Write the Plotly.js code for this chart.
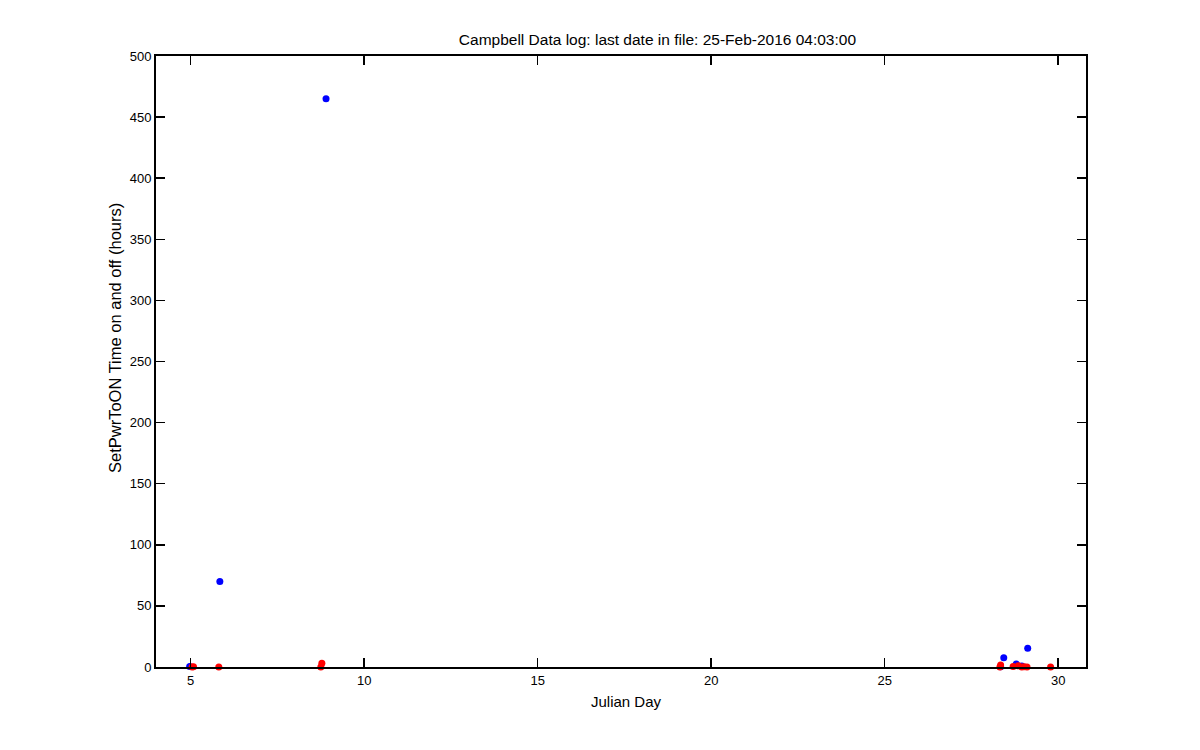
<!DOCTYPE html>
<html>
<head>
<meta charset="utf-8">
<script src="https://cdn.plot.ly/plotly-3.0.1.min.js"></script>
<style>html,body{margin:0;padding:0;background:#fff;}#chart{width:1200px;height:750px;}</style>
</head>
<body>
<div id="chart"></div>
<script>
// Blue series (time on)
const onDay   = [4.97, 5.84, 8.90, 28.34, 28.43, 28.79, 28.95, 29.12];
const onHours = [0.5, 70, 465, 0.2, 7.5, 2.5, 0.8, 15.3];
// Red series (time off)
const offDay   = [5.04, 5.08, 5.81, 8.75, 8.78, 28.32, 28.34, 28.70, 28.85, 28.95, 29.02, 29.10, 29.78];
const offHours = [0, 0.3, 0, 0, 3, 0, 1.6, 0.5, 1, 0, 0.3, 0, 0];

const xTicks = [5, 10, 15, 20, 25, 30];
const yTicks = [0, 50, 100, 150, 200, 250, 300, 350, 400, 450, 500];

const family = 'Liberation Sans, Arial, sans-serif';
const font = {family: family, size: 13, color: '#000'};

const traces = [
  {x: onDay, y: onHours, type: 'scatter', mode: 'markers', cliponaxis: false,
   marker: {color: '#0000ff', size: 7}, showlegend: false},
  {x: offDay, y: offHours, type: 'scatter', mode: 'markers', cliponaxis: false,
   marker: {color: '#ff0000', size: 7}, showlegend: false}
];

const axisCommon = {
  showline: true, linecolor: '#000', linewidth: 2, mirror: 'ticks',
  ticks: 'inside', ticklen: 9, tickwidth: 1.5, tickcolor: '#000',
  showgrid: false, zeroline: false, tickfont: font
};

const W = 930, H = 611;
const layout = {
  width: 1200, height: 750,
  paper_bgcolor: '#fff', plot_bgcolor: '#fff',
  margin: {l: 156, r: 114, t: 56, b: 83},
  font: font,
  title: {text: 'Campbell Data log: last date in file: 25-Feb-2016 04:03:00',
          font: {family: family, size: 15.5, color: '#000'},
          xref: 'paper', x: 647 / 1200, xanchor: 'center', y: 1 - 40/750, yanchor: 'middle'},
  xaxis: Object.assign({}, axisCommon, {
    range: [4, 30.8], tickvals: xTicks, ticktext: xTicks.map(String)
  }),
  yaxis: Object.assign({}, axisCommon, {
    range: [0, 500], tickvals: yTicks, ticktext: yTicks.map(String)
  }),
  annotations: [{
    text: 'SetPwrToON Time on and off (hours)', textangle: -90, showarrow: false,
    xref: 'paper', yref: 'paper', x: (115 - 156) / W, y: (667 - 338) / H,
    xanchor: 'center', yanchor: 'middle',
    font: {family: family, size: 16.5, color: '#000'}
  }, {
    text: 'Julian Day', showarrow: false,
    xref: 'paper', yref: 'paper', x: (626.5 - 156) / W, y: (667 - 701) / H,
    xanchor: 'center', yanchor: 'middle',
    font: {family: family, size: 15, color: '#000'}
  }]
};

Plotly.newPlot('chart', traces, layout, {displayModeBar: false, staticPlot: true});
</script>
</body>
</html>
